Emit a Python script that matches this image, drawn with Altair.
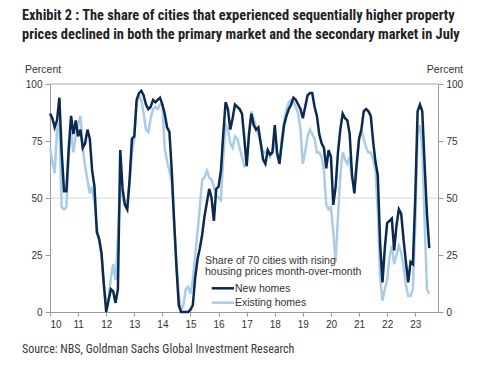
import altair as alt
import pandas as pd

# ---------------- data ----------------
start_year = 2010
year_ticks = list(range(2010, 2024))
y_ticks = [0, 25, 50, 75, 100]

# Share of 70 cities with rising prices m/m, monthly Jan-2010 .. Jul-2023
new_homes = [
    87, 85, 81, 84, 94, 70, 53, 53, 72, 86, 78, 84,   # 2010
    77, 80, 72, 74, 80, 76, 62, 55, 35, 32, 26, 12,   # 2011
    0, 5, 10, 9, 4, 10, 71, 54, 47, 45, 58, 76,       # 2012
    77, 93, 96, 97, 95, 91, 89, 90, 93, 92, 93, 94,   # 2013
    91, 87, 81, 79, 62, 40, 20, 3, 0, 0, 0, 0,        # 2014
    1, 3, 15, 23, 28, 34, 42, 48, 54, 50, 40, 54,     # 2015
    55, 62, 78, 92, 89, 80, 85, 91, 90, 89, 87, 76,   # 2016
    64, 78, 87, 82, 80, 81, 74, 67, 65, 71, 69, 70,   # 2017
    82, 70, 65, 74, 82, 86, 89, 91, 94, 93, 91, 89,   # 2018
    85, 90, 95, 96, 96, 90, 86, 78, 74, 72, 63, 71,   # 2019
    68, 47, 55, 70, 80, 87, 85, 84, 78, 60, 52, 65,   # 2020
    76, 80, 88, 89, 88, 86, 75, 66, 60, 30, 13, 28,   # 2021
    39, 40, 41, 27, 38, 45, 43, 32, 22, 13, 22, 21,   # 2022
    50, 88, 91, 88, 65, 43, 28,                       # 2023
]
existing_homes = [
    72, 66, 61, 80, 83, 46, 45, 46, 68, 79, 70, 77,   # 2010
    82, 86, 72, 64, 58, 52, 55, 48, 38, 31, 24, 12,   # 2011
    5, 6, 15, 21, 14, 33, 54, 50, 47, 47, 57, 70,     # 2012
    76, 92, 95, 93, 87, 80, 79, 85, 89, 90, 89, 91,   # 2013
    91, 72, 66, 62, 57, 40, 22, 8, 1, 3, 10, 11,      # 2014
    8, 14, 25, 35, 46, 58, 59, 62, 59, 58, 55, 51,    # 2015
    50, 49, 68, 82, 80, 74, 72, 77, 76, 72, 68, 64,   # 2016
    65, 78, 88, 85, 80, 78, 74, 70, 70, 71, 68, 70,   # 2017
    76, 68, 66, 76, 84, 89, 92, 93, 92, 90, 87, 80,   # 2018
    65, 70, 77, 80, 78, 76, 70, 70, 68, 62, 47, 45,   # 2019
    46, 35, 22, 42, 60, 70, 67, 65, 68, 58, 57, 65,   # 2020
    75, 80, 76, 72, 70, 70, 67, 62, 45, 15, 5, 10,    # 2021
    14, 24, 29, 21, 25, 29, 26, 20, 12, 7, 7, 10,     # 2022
    38, 78, 82, 72, 40, 10, 8,                        # 2023
]

title_lines = [
    "Exhibit 2 : The share of cities that experienced sequentially higher property",
    "prices declined in both the primary market and the secondary market in July",
]
legend_title = ["Share of 70 cities with rising", "housing prices month-over-month"]
series_names = ["New homes", "Existing homes"]
source_text = "Source: NBS, Goldman Sachs Global Investment Research"

# ---------------- styling ----------------
DARK = "#0b2a4f"
LIGHT = "#a9cce9"
AXIS_GREY = "#9a9a9a"
TXT = "#333333"
FONT = "Liberation Sans, Arial, sans-serif"
COND = "Liberation Sans Narrow, Arial Narrow, Roboto Condensed, sans-serif"

t = [start_year + i / 12 for i in range(len(new_homes))]
df_new = pd.DataFrame({"t": t, "v": new_homes})
df_ex = pd.DataFrame({"t": t, "v": existing_homes})

xscale = alt.Scale(domain=[2010, 2023.81], nice=False, zero=False)
yscale = alt.Scale(domain=[0, 100], nice=False)

xaxis = alt.Axis(values=year_ticks, labelExpr="format(datum.value - 2000, 'd')",
                 title="", grid=False, tickSize=4, labelPadding=3,
                 domainColor=AXIS_GREY, tickColor=AXIS_GREY, labelColor=TXT,
                 labelFont=FONT, labelFontSize=10, labelAngle=0)


def yaxis(orient):
    return alt.Axis(values=y_ticks, orient=orient, title="", grid=False,
                    tickSize=5, labelPadding=3, domainColor=AXIS_GREY,
                    tickColor=AXIS_GREY, labelColor=TXT, labelFont=FONT,
                    labelFontSize=10)


one = pd.DataFrame({"a": [0]})

grid50 = alt.Chart(pd.DataFrame({"y": [50]})).mark_rule(
    color="#d6d6d6", strokeWidth=1).encode(
    y=alt.Y("y:Q", scale=yscale, axis=None))
top = alt.Chart(pd.DataFrame({"y": [100]})).mark_rule(
    color="#a8a8a8", strokeWidth=1).encode(
    y=alt.Y("y:Q", scale=yscale, axis=None))

light = alt.Chart(df_ex).mark_line(color=LIGHT, strokeWidth=2.5).encode(
    x=alt.X("t:Q", scale=xscale, axis=xaxis),
    y=alt.Y("v:Q", scale=yscale, axis=yaxis("left")))
dark = alt.Chart(df_new).mark_line(color=DARK, strokeWidth=2.5).encode(
    x=alt.X("t:Q", scale=xscale, axis=xaxis),
    y=alt.Y("v:Q", scale=yscale, axis=yaxis("right")))


def txt(text, x, y, size, font, weight="normal", align="left", color=TXT):
    return alt.Chart(one).mark_text(
        text=text, align=align, baseline="alphabetic", font=font,
        fontSize=size, fontWeight=weight, color=color,
    ).encode(x=alt.value(x), y=alt.value(y))


def seg(color, y):
    return alt.Chart(one).mark_rule(color=color, strokeWidth=2.5).encode(
        x=alt.value(161.7), x2=alt.value(184), y=alt.value(y))


texts = [
    txt(title_lines[0], -28, -64.5, 14.4, COND, weight="bold", color="#222222"),
    txt(title_lines[1], -28, -45, 14.4, COND, weight="bold", color="#222222"),
    txt("Percent", -25, -11, 10.5, FONT),
    txt("Percent", 413, -11, 10.5, FONT, align="right"),
    txt(legend_title[0], 155, 180, 10.5, FONT),
    txt(legend_title[1], 155, 190.5, 10.5, FONT),
    txt(series_names[0], 185, 208, 10.5, FONT),
    txt(series_names[1], 185, 222, 10.5, FONT),
    txt(source_text, -28, 268.5, 12, COND, color="#3a3a3a"),
]

chart = alt.layer(
    grid50, top, light, dark, seg(DARK, 204.3), seg(LIGHT, 218.7), *texts
).resolve_axis(y="independent").properties(
    width=388, height=228,
    padding={"left": 42, "top": 76, "right": 54, "bottom": 44},
    autosize=alt.AutoSizeParams(type="none"),
    background="white",
).configure_view(strokeWidth=0)

chart.save("out.html", embed_options={"renderer": "svg", "actions": False})
